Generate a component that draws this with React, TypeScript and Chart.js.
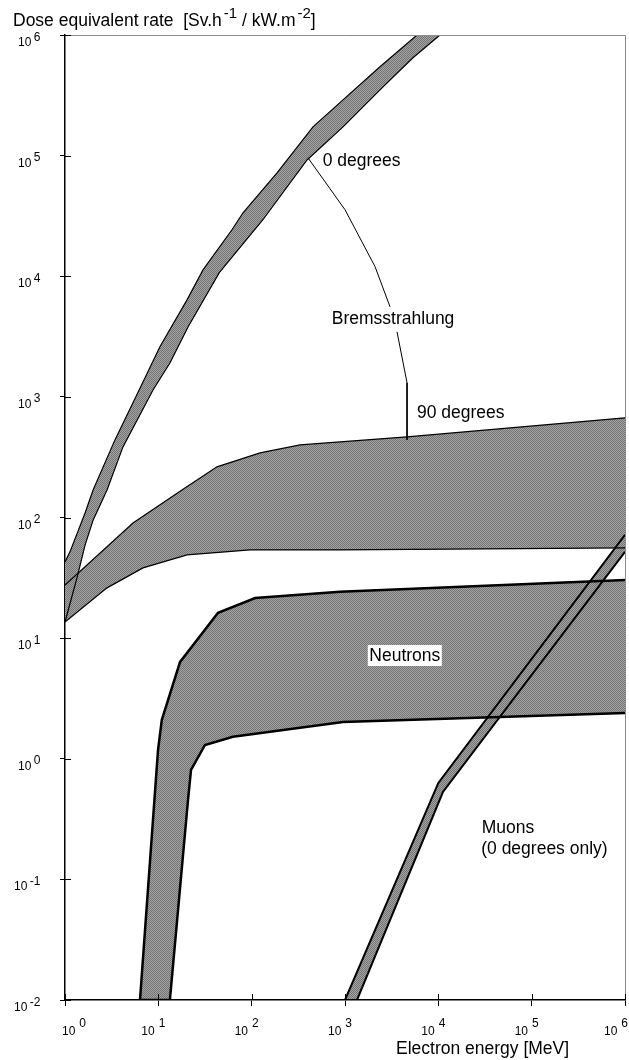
import React, { useEffect, useRef } from "react";
import { Chart, registerables } from "chart.js";

Chart.register(...registerables);

// ---- tick labels (exponents of 10) ----
const xTickExponents = ["0", "1", "2", "3", "4", "5", "6"];
const yTickExponents = ["-2", "-1", "0", "1", "2", "3", "4", "5", "6"];

// ---- Bremsstrahlung, 0 degrees (energy MeV / dose rate) ----
const brem0UpperEnergy = [1, 1.13, 1.64, 2.0, 3.43, 5.35, 10.4, 20.3, 30.1, 61.5, 80.8, 187, 454, 952, 2370, 5910, 11800];
const brem0UpperDose = [42.8, 51.9, 109, 169, 440, 892, 2600, 6370, 11300, 24300, 33600, 72000, 173000, 290000, 545000, 1000000, 1580000];
const brem0LowerEnergy = [1, 1.35, 1.64, 2.0, 2.82, 4.18, 8.77, 13.3, 20.8, 45, 132, 392, 952, 2370, 5350, 10400, 11800];
const brem0LowerDose = [13.6, 32, 59, 95, 169, 385, 1140, 1910, 3800, 10700, 29400, 92000, 173000, 351000, 647000, 1000000, 1100000];

// ---- Bremsstrahlung, 90 degrees ----
const brem90UpperEnergy = [1, 5.35, 17.9, 42.5, 123, 330, 4620, 1000000];
const brem90UpperDose = [27.6, 90, 169, 263, 343, 400, 466, 670];
const brem90LowerEnergy = [1, 2.82, 6.85, 20.3, 96, 884, 1000000];
const brem90LowerDose = [13.6, 26.1, 38.2, 49, 53.9, 53.9, 56];

// ---- Neutrons ----
const neutronUpperEnergy = [6.36, 9.92, 10.9, 17.1, 43.6, 109, 884, 1000000];
const neutronUpperDose = [0.01, 1.18, 2.1, 6.35, 16.2, 21.5, 24.2, 30.4];
const neutronLowerEnergy = [6.36, 13.3, 20.8, 22.4, 31.6, 63, 952, 1000000];
const neutronLowerDose = [0.01, 0.01, 0.455, 0.81, 1.3, 1.52, 2.02, 2.4];

// ---- Muons (0 degrees only) ----
const muonUpperEnergy = [1000, 10000, 1000000];
const muonUpperDose = [0.01, 0.63, 71.8];
const muonLowerEnergy = [1000, 1345, 11200, 1000000];
const muonLowerDose = [0.01, 0.01, 0.53, 52];

// ---- "Bremsstrahlung" leader line ----
const leaderTopEnergy = [401, 1000, 2100, 3040];
const leaderTopDose = [95900, 35600, 12000, 5570];
const leaderBottomEnergy = [3610, 4620, 4620];
const leaderBottomDose = [3460, 1307, 440];

// ---- in-plot labels (anchored at energy / dose values) ----
const plotLabels = [
  { text: "0 degrees", e: 577, d: 81300 },
  { text: "Bremsstrahlung", e: 722, d: 4030 },
  { text: "90 degrees", e: 5910, d: 662 },
  { text: "Muons", e: 29200, d: 0.241 },
  { text: "(0 degrees only)", e: 28800, d: 0.163 },
];
const neutronLabel = { text: "Neutrons", e: 1820, d: 6.5 };

const FONT = '"Liberation Sans", Arial, Helvetica, sans-serif';

function pts(xs: number[], ys: number[]) {
  return xs.map((x, i) => ({ x, y: ys[i] }));
}

function makePattern(): CanvasPattern | string {
  const c = document.createElement("canvas");
  c.width = 2;
  c.height = 2;
  const g = c.getContext("2d");
  if (!g) return "#8c8c8c";
  g.fillStyle = "#a4a4a4";
  g.fillRect(0, 0, 2, 2);
  g.fillStyle = "#747474";
  g.fillRect(0, 0, 1, 1);
  g.fillRect(1, 1, 1, 1);
  const p = g.createPattern(c, "repeat");
  return p || "#8c8c8c";
}

const decorPlugin = {
  id: "decor",
  afterDraw(chart: any) {
    const { ctx, chartArea } = chart;
    const xs = chart.scales.x;
    const ys = chart.scales.y;
    ctx.save();

    // top & right frame (thin grey)
    ctx.strokeStyle = "#8c8c8c";
    ctx.lineWidth = 1;
    ctx.beginPath();
    ctx.moveTo(chartArea.left, chartArea.top + 0.5);
    ctx.lineTo(chartArea.right + 0.5, chartArea.top + 0.5);
    ctx.lineTo(chartArea.right + 0.5, chartArea.bottom);
    ctx.stroke();

    // inner half of tick marks
    ctx.strokeStyle = "#000";
    ctx.lineWidth = 1;
    ctx.beginPath();
    xTickExponents.forEach((ex) => {
      const px = Math.round(xs.getPixelForValue(Math.pow(10, Number(ex)))) + 0.5;
      ctx.moveTo(px, chartArea.bottom);
      ctx.lineTo(px, chartArea.bottom - 6);
    });
    yTickExponents.forEach((ex) => {
      const py = Math.round(ys.getPixelForValue(Math.pow(10, Number(ex)))) + 0.5;
      ctx.moveTo(chartArea.left, py);
      ctx.lineTo(chartArea.left + 6, py);
    });
    ctx.stroke();

    ctx.fillStyle = "#000";
    ctx.textBaseline = "alphabetic";
    ctx.textAlign = "left";
    const tickFont = `12px ${FONT}`;

    // x tick labels
    xTickExponents.forEach((ex) => {
      const px = xs.getPixelForValue(Math.pow(10, Number(ex)));
      ctx.font = tickFont;
      const w10 = ctx.measureText("10").width;
      const wSup = ctx.measureText(ex).width;
      let left = px - 17;
      left = Math.max(62, Math.min(left, 628 - (w10 + 4 + wSup)));
      ctx.fillText("10", left, chartArea.bottom + 35);
      ctx.fillText(ex, left + w10 + 4, chartArea.bottom + 26.5);
    });

    // y tick labels (right aligned)
    yTickExponents.forEach((ex) => {
      const py = ys.getPixelForValue(Math.pow(10, Number(ex)));
      ctx.font = tickFont;
      const w10 = ctx.measureText("10").width;
      const wSup = ctx.measureText(ex).width;
      const supX = 40.5 - wSup;
      ctx.fillText(ex, supX, py + 5.5);
      ctx.fillText("10", supX - 2.5 - w10, py + 11);
    });

    const big = `17.5px ${FONT}`;
    const sup = `15px ${FONT}`;

    // y-axis title
    let cx = 13;
    const parts: [string, string, number, number][] = [
      ["Dose equivalent rate  [Sv.h", big, 26, 0],
      ["-1", sup, 18, 2],
      [" / kW.m", big, 26, 0],
      ["-2", sup, 18, 2],
      ["]", big, 26, 0],
    ];
    parts.forEach(([t, f, by, pre]) => {
      ctx.font = f;
      cx += pre;
      ctx.fillText(t, cx, by);
      cx += ctx.measureText(t).width;
    });

    // x-axis title
    ctx.font = big;
    ctx.fillText("Electron energy [MeV]", 396, 1054);

    // in-plot labels
    plotLabels.forEach((l) => {
      ctx.font = big;
      ctx.fillText(l.text, xs.getPixelForValue(l.e), ys.getPixelForValue(l.d));
    });

    // Neutrons label with white box
    {
      ctx.font = big;
      const tx = xs.getPixelForValue(neutronLabel.e);
      const ty = ys.getPixelForValue(neutronLabel.d);
      const w = ctx.measureText(neutronLabel.text).width;
      ctx.fillStyle = "#fff";
      ctx.fillRect(tx - 1.5, ty - 15.7, w + 3, 21);
      ctx.fillStyle = "#000";
      ctx.fillText(neutronLabel.text, tx, ty);
    }

    ctx.restore();
  },
};

export default function App() {
  const canvasRef = useRef<HTMLCanvasElement | null>(null);

  useEffect(() => {
    const canvas = canvasRef.current;
    if (!canvas) return;
    const pattern = makePattern();

    const edge = (data: any, width: number, fill: any) => ({
      data,
      borderColor: "#000",
      borderWidth: width,
      backgroundColor: pattern,
      fill,
      pointRadius: 0,
      tension: 0,
      clip: 0,
    });

    const chart = new Chart(canvas, {
      type: "line",
      data: {
        datasets: [
          edge(pts(brem0UpperEnergy, brem0UpperDose), 1.2, "+1"),
          edge(pts(brem0LowerEnergy, brem0LowerDose), 1.2, false),
          edge(pts(brem90UpperEnergy, brem90UpperDose), 1.2, "+1"),
          edge(pts(brem90LowerEnergy, brem90LowerDose), 1.2, false),
          edge(pts(neutronUpperEnergy, neutronUpperDose), 2.5, "+1"),
          edge(pts(neutronLowerEnergy, neutronLowerDose), 2.5, false),
          edge(pts(muonUpperEnergy, muonUpperDose), 2, "+1"),
          edge(pts(muonLowerEnergy, muonLowerDose), 2, false),
          edge(pts(leaderTopEnergy, leaderTopDose), 1, false),
          edge(pts(leaderBottomEnergy, leaderBottomDose), 1, false),
        ] as any,
      },
      options: {
        responsive: false,
        animation: false,
        devicePixelRatio: 1,
        layout: { padding: { top: 35, right: 4, left: 0, bottom: 0 } },
        plugins: {
          legend: { display: false },
          tooltip: { enabled: false },
          filler: { drawTime: "beforeDatasetsDraw" } as any,
        },
        scales: {
          x: {
            type: "logarithmic",
            min: 1,
            max: 1000000,
            position: "bottom",
            ticks: { display: false },
            grid: { drawOnChartArea: false, drawTicks: true, tickLength: 6, color: "#000", lineWidth: 1 },
            border: { display: true, color: "#000", width: 1.5 },
            afterBuildTicks: (s: any) => {
              s.ticks = xTickExponents.map((e) => ({ value: Math.pow(10, Number(e)) }));
            },
            afterFit: (s: any) => {
              s.height = 60;
            },
          },
          y: {
            type: "logarithmic",
            min: 0.01,
            max: 1000000,
            position: "left",
            ticks: { display: false },
            grid: { drawOnChartArea: false, drawTicks: true, tickLength: 5, color: "#000", lineWidth: 1 },
            border: { display: true, color: "#000", width: 1.5 },
            afterBuildTicks: (s: any) => {
              s.ticks = yTickExponents.map((e) => ({ value: Math.pow(10, Number(e)) }));
            },
            afterFit: (s: any) => {
              s.width = 65;
            },
          },
        } as any,
      },
      plugins: [decorPlugin as any],
    });

    return () => chart.destroy();
  }, []);

  return (
    <div style={{ position: "absolute", left: 0, top: 0, width: 629, height: 1060, background: "#fff" }}>
      <canvas ref={canvasRef} width={629} height={1060} style={{ display: "block" }} />
    </div>
  );
}
